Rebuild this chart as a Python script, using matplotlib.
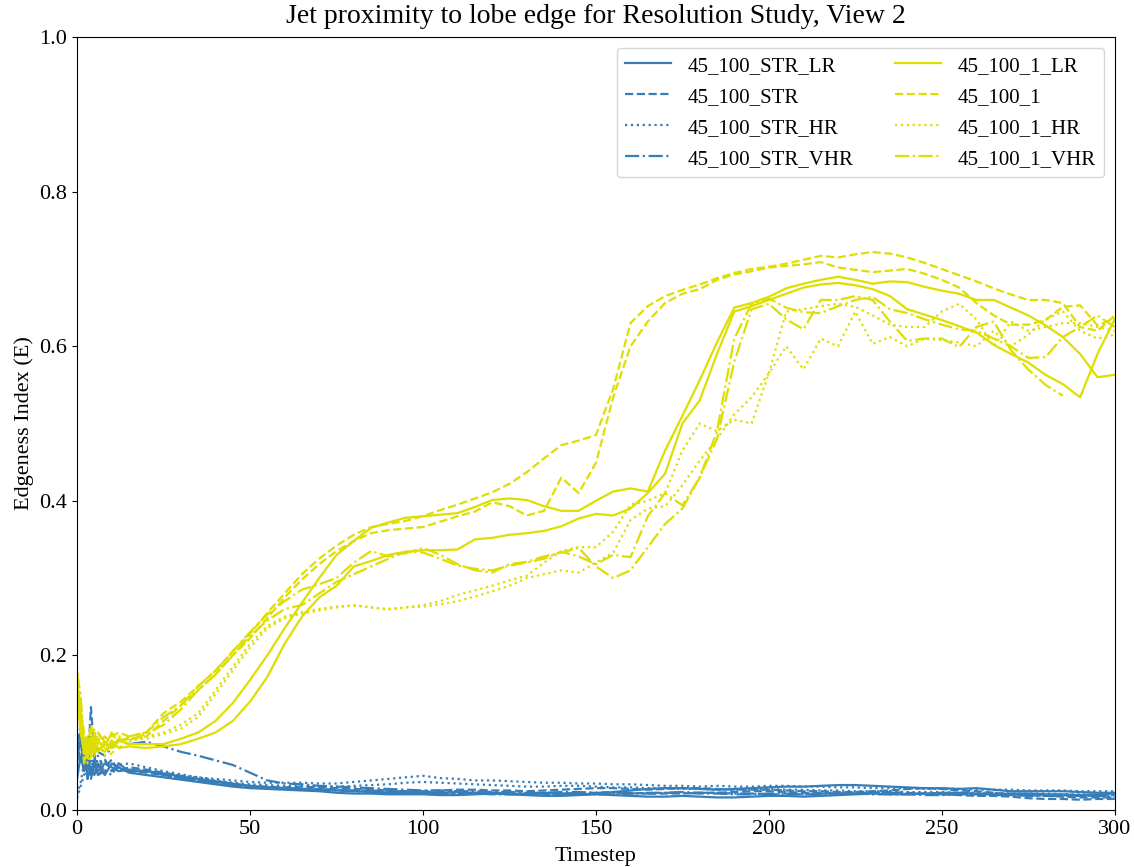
import numpy as np
import matplotlib
matplotlib.use("Agg")
import matplotlib.pyplot as plt

plt.rcParams['font.family'] = ['Liberation Serif', 'DejaVu Serif']

# timestep grid (denser at the start where the index jumps around)
timestep = [0, 1, 2, 3, 4, 5, 6, 8, 10, 12, 15] + list(range(20, 301, 5))

# 45_100_STR runs (two views of each resolution)
str_lr_a = [0.07, 0.09, 0.05, 0.06, 0.045, 0.065, 0.05, 0.06, 0.055, 0.05, 0.052,
            0.05, 0.047, 0.043, 0.04, 0.037, 0.034, 0.031, 0.029, 0.028, 0.027, 0.026, 0.025,
            0.024, 0.023, 0.022, 0.022, 0.021, 0.022, 0.023, 0.022, 0.022, 0.021, 0.021, 0.022,
            0.021, 0.02, 0.021, 0.023, 0.025, 0.027, 0.028, 0.028, 0.027, 0.026, 0.027, 0.028,
            0.029, 0.03, 0.03, 0.031, 0.032, 0.032, 0.031, 0.03, 0.029, 0.028, 0.028, 0.027,
            0.028, 0.026, 0.024, 0.024, 0.024, 0.024, 0.023, 0.022, 0.022]
str_lr_b = [0.05, 0.065, 0.085, 0.04, 0.055, 0.045, 0.06, 0.045, 0.06, 0.055, 0.048,
            0.045, 0.042, 0.039, 0.036, 0.033, 0.03, 0.028, 0.027, 0.026, 0.025, 0.024, 0.022,
            0.021, 0.021, 0.02, 0.02, 0.02, 0.019, 0.019, 0.02, 0.021, 0.02, 0.019, 0.018,
            0.018, 0.019, 0.02, 0.019, 0.018, 0.017, 0.017, 0.018, 0.017, 0.016, 0.016, 0.017,
            0.018, 0.018, 0.017, 0.018, 0.019, 0.02, 0.021, 0.02, 0.02, 0.021, 0.022, 0.022,
            0.021, 0.02, 0.021, 0.021, 0.02, 0.02, 0.019, 0.02, 0.021]
str_a = [0.06, 0.1, 0.055, 0.07, 0.05, 0.06, 0.055, 0.065, 0.05, 0.06, 0.05,
         0.048, 0.045, 0.041, 0.038, 0.035, 0.033, 0.03, 0.029, 0.028, 0.027, 0.027, 0.026,
         0.025, 0.025, 0.024, 0.024, 0.024, 0.025, 0.026, 0.026, 0.025, 0.025, 0.024, 0.025,
         0.026, 0.027, 0.028, 0.028, 0.027, 0.026, 0.027, 0.028, 0.028, 0.027, 0.026, 0.026,
         0.026, 0.025, 0.024, 0.024, 0.023, 0.023, 0.024, 0.025, 0.027, 0.028, 0.027, 0.025,
         0.024, 0.022, 0.02, 0.019, 0.018, 0.017, 0.016, 0.016, 0.016]
str_b = [0.09, 0.06, 0.075, 0.05, 0.133, 0.07, 0.045, 0.055, 0.065, 0.05, 0.055,
         0.052, 0.048, 0.044, 0.04, 0.036, 0.033, 0.031, 0.03, 0.029, 0.03, 0.029, 0.028,
         0.027, 0.026, 0.025, 0.024, 0.023, 0.023, 0.022, 0.022, 0.021, 0.021, 0.02, 0.02,
         0.021, 0.022, 0.022, 0.023, 0.022, 0.021, 0.021, 0.021, 0.022, 0.022, 0.023, 0.024,
         0.024, 0.023, 0.022, 0.022, 0.021, 0.021, 0.022, 0.023, 0.022, 0.021, 0.02, 0.019,
         0.018, 0.018, 0.017, 0.015, 0.014, 0.014, 0.013, 0.014, 0.014]
str_hr_a = [0.02, 0.035, 0.06, 0.04, 0.065, 0.05, 0.07, 0.05, 0.06, 0.055, 0.05,
            0.05, 0.047, 0.044, 0.042, 0.04, 0.038, 0.036, 0.035, 0.035, 0.035, 0.034, 0.034,
            0.036, 0.038, 0.04, 0.042, 0.044, 0.041, 0.04, 0.038, 0.038, 0.037, 0.036, 0.035,
            0.035, 0.034, 0.034, 0.033, 0.033, 0.032, 0.031, 0.031, 0.03, 0.031, 0.03, 0.03,
            0.031, 0.031, 0.03, 0.03, 0.029, 0.029, 0.028, 0.028, 0.028, 0.027, 0.027, 0.027,
            0.026, 0.026, 0.026, 0.025, 0.025, 0.025, 0.024, 0.024, 0.024]
str_hr_b = [0.015, 0.03, 0.045, 0.08, 0.055, 0.07, 0.06, 0.065, 0.05, 0.058, 0.06,
            0.055, 0.05, 0.046, 0.042, 0.038, 0.035, 0.033, 0.032, 0.031, 0.031, 0.03, 0.03,
            0.031, 0.032, 0.033, 0.035, 0.036, 0.035, 0.034, 0.033, 0.032, 0.031, 0.03, 0.03,
            0.031, 0.031, 0.03, 0.029, 0.029, 0.028, 0.028, 0.027, 0.027, 0.026, 0.026, 0.027,
            0.027, 0.026, 0.026, 0.025, 0.025, 0.024, 0.024, 0.024, 0.023, 0.023, 0.023, 0.022,
            0.022, 0.022, 0.021, 0.021, 0.021, 0.02, 0.02, 0.02, 0.02]
str_vhr_a = [0.08, 0.11, 0.07, 0.09, 0.075, 0.085, 0.075, 0.07, 0.08, 0.09, 0.085,
             0.088, 0.082, 0.075, 0.07, 0.064, 0.058, 0.048, 0.038, 0.034, 0.033, 0.031, 0.03,
             0.029, 0.028, 0.027, 0.026, 0.025, 0.025, 0.024, 0.024, 0.023, 0.023, 0.022, 0.022,
             0.023, 0.023, 0.022, 0.022, 0.021, 0.021, 0.022, 0.022, 0.021, 0.021, 0.02, 0.02,
             0.021, 0.021, 0.02, 0.02, 0.021, 0.021, 0.02, 0.02, 0.02, 0.019, 0.019, 0.02,
             0.02, 0.019, 0.019, 0.018, 0.018, 0.018, 0.018, 0.018, 0.017]
str_vhr_b = [0.04, 0.07, 0.05, 0.065, 0.04, 0.06, 0.045, 0.05, 0.045, 0.06, 0.05,
             0.05, 0.045, 0.041, 0.038, 0.035, 0.032, 0.03, 0.029, 0.028, 0.027, 0.026, 0.025,
             0.024, 0.024, 0.023, 0.022, 0.022, 0.021, 0.021, 0.021, 0.02, 0.02, 0.02, 0.021,
             0.021, 0.02, 0.02, 0.02, 0.021, 0.022, 0.022, 0.023, 0.022, 0.022, 0.021, 0.021,
             0.02, 0.02, 0.02, 0.021, 0.021, 0.021, 0.022, 0.022, 0.021, 0.021, 0.02, 0.02,
             0.02, 0.02, 0.019, 0.019, 0.019, 0.019, 0.018, 0.018, 0.019]

# 45_100_1 runs
one_lr_a = [0.16, 0.12, 0.09, 0.07, 0.095, 0.08, 0.075, 0.085, 0.08, 0.09, 0.085,
            0.085, 0.085, 0.092, 0.10, 0.115, 0.138, 0.168, 0.200, 0.235, 0.268, 0.300, 0.330,
            0.348, 0.365, 0.372, 0.378, 0.380, 0.382, 0.384, 0.392, 0.401, 0.403, 0.401, 0.393,
            0.387, 0.387, 0.400, 0.412, 0.416, 0.412, 0.465, 0.510, 0.556, 0.605, 0.650, 0.656,
            0.664, 0.675, 0.681, 0.686, 0.690, 0.686, 0.681, 0.684, 0.683, 0.677, 0.672, 0.668,
            0.660, 0.660, 0.650, 0.640, 0.627, 0.612, 0.590, 0.560, 0.563]
one_lr_b = [0.15, 0.10, 0.075, 0.085, 0.07, 0.09, 0.08, 0.075, 0.09, 0.08, 0.082,
            0.080, 0.082, 0.085, 0.092, 0.100, 0.115, 0.140, 0.172, 0.215, 0.250, 0.275, 0.290,
            0.315, 0.322, 0.330, 0.334, 0.336, 0.336, 0.337, 0.350, 0.352, 0.356, 0.358, 0.361,
            0.367, 0.377, 0.383, 0.381, 0.390, 0.410, 0.435, 0.500, 0.530, 0.590, 0.645, 0.652,
            0.660, 0.668, 0.676, 0.680, 0.682, 0.679, 0.674, 0.665, 0.648, 0.641, 0.634, 0.626,
            0.618, 0.602, 0.590, 0.579, 0.563, 0.551, 0.534, 0.590, 0.635]
one_a = [0.17, 0.13, 0.10, 0.08, 0.11, 0.09, 0.10, 0.085, 0.095, 0.10, 0.095,
         0.100, 0.125, 0.140, 0.160, 0.180, 0.205, 0.228, 0.255, 0.280, 0.305, 0.325, 0.342,
         0.356, 0.366, 0.370, 0.374, 0.380, 0.388, 0.395, 0.403, 0.411, 0.422, 0.437, 0.455,
         0.472, 0.478, 0.485, 0.545, 0.630, 0.652, 0.665, 0.673, 0.680, 0.688, 0.695, 0.700,
         0.703, 0.707, 0.712, 0.717, 0.715, 0.719, 0.722, 0.720, 0.715, 0.708, 0.700, 0.692,
         0.684, 0.675, 0.667, 0.660, 0.660, 0.656, 0.625, 0.620, 0.640]
one_b = [0.155, 0.11, 0.085, 0.095, 0.075, 0.10, 0.085, 0.095, 0.085, 0.09, 0.092,
         0.095, 0.115, 0.135, 0.155, 0.175, 0.200, 0.222, 0.248, 0.275, 0.298, 0.318, 0.335,
         0.348, 0.358, 0.362, 0.364, 0.366, 0.373, 0.380, 0.386, 0.398, 0.393, 0.381, 0.387,
         0.430, 0.410, 0.449, 0.534, 0.600, 0.632, 0.656, 0.668, 0.674, 0.686, 0.693, 0.697,
         0.702, 0.704, 0.706, 0.709, 0.702, 0.699, 0.696, 0.698, 0.700, 0.694, 0.686, 0.676,
         0.656, 0.640, 0.628, 0.628, 0.634, 0.651, 0.653, 0.627, 0.636]
one_hr_a = [0.184, 0.14, 0.09, 0.06, 0.08, 0.105, 0.075, 0.09, 0.07, 0.095, 0.088,
            0.095, 0.100, 0.110, 0.125, 0.155, 0.185, 0.215, 0.238, 0.250, 0.256, 0.260, 0.263,
            0.264, 0.262, 0.259, 0.262, 0.265, 0.270, 0.278, 0.284, 0.290, 0.297, 0.303, 0.320,
            0.335, 0.340, 0.340, 0.360, 0.395, 0.400, 0.410, 0.465, 0.500, 0.490, 0.505, 0.500,
            0.565, 0.645, 0.648, 0.652, 0.655, 0.651, 0.640, 0.628, 0.625, 0.625, 0.645, 0.655,
            0.635, 0.600, 0.632, 0.620, 0.625, 0.630, 0.630, 0.625, 0.620]
one_hr_b = [0.165, 0.12, 0.07, 0.09, 0.065, 0.085, 0.095, 0.07, 0.085, 0.08, 0.09,
            0.092, 0.098, 0.105, 0.120, 0.150, 0.180, 0.210, 0.235, 0.248, 0.254, 0.258, 0.262,
            0.265, 0.262, 0.260, 0.262, 0.263, 0.266, 0.270, 0.276, 0.283, 0.290, 0.300, 0.305,
            0.310, 0.307, 0.320, 0.333, 0.375, 0.390, 0.393, 0.420, 0.452, 0.480, 0.512, 0.534,
            0.565, 0.600, 0.570, 0.610, 0.600, 0.645, 0.603, 0.612, 0.600, 0.610, 0.608, 0.605,
            0.600, 0.620, 0.600, 0.615, 0.635, 0.645, 0.620, 0.610, 0.615]
one_vhr_a = [0.175, 0.15, 0.08, 0.065, 0.10, 0.075, 0.09, 0.08, 0.10, 0.085, 0.095,
             0.100, 0.120, 0.135, 0.160, 0.180, 0.205, 0.230, 0.253, 0.270, 0.285, 0.292, 0.300,
             0.320, 0.335, 0.328, 0.332, 0.339, 0.330, 0.318, 0.310, 0.307, 0.318, 0.321, 0.328,
             0.333, 0.339, 0.315, 0.300, 0.310, 0.340, 0.370, 0.390, 0.430, 0.480, 0.580, 0.648,
             0.655, 0.635, 0.622, 0.660, 0.660, 0.665, 0.660, 0.632, 0.607, 0.610, 0.610, 0.599,
             0.625, 0.632, 0.595, 0.570, 0.550, 0.536, np.nan, np.nan, np.nan]
one_vhr_b = [0.16, 0.135, 0.06, 0.08, 0.09, 0.07, 0.10, 0.088, 0.078, 0.092, 0.09,
             0.098, 0.110, 0.130, 0.155, 0.175, 0.200, 0.225, 0.245, 0.260, 0.265, 0.280, 0.295,
             0.305, 0.315, 0.325, 0.334, 0.333, 0.325, 0.316, 0.312, 0.310, 0.316, 0.320, 0.325,
             0.334, 0.328, 0.318, 0.330, 0.327, 0.380, 0.410, 0.394, 0.430, 0.490, 0.610, 0.655,
             0.662, 0.650, 0.644, 0.643, 0.652, 0.660, 0.664, 0.648, 0.643, 0.635, 0.628, 0.622,
             0.620, 0.610, 0.600, 0.585, 0.586, 0.612, 0.625, 0.640, 0.625]

blue = '#377eb8'
yellow = '#dede00'

fig, ax = plt.subplots(figsize=(11.34, 8.67), dpi=100)
fig.subplots_adjust(left=0.068, right=0.983, top=0.957, bottom=0.066)

runs = [
    ('45_100_STR_LR', str_lr_a, str_lr_b, blue, '-'),
    ('45_100_STR', str_a, str_b, blue, '--'),
    ('45_100_STR_HR', str_hr_a, str_hr_b, blue, ':'),
    ('45_100_STR_VHR', str_vhr_a, str_vhr_b, blue, '-.'),
    ('45_100_1_LR', one_lr_a, one_lr_b, yellow, '-'),
    ('45_100_1', one_a, one_b, yellow, '--'),
    ('45_100_1_HR', one_hr_a, one_hr_b, yellow, ':'),
    ('45_100_1_VHR', one_vhr_a, one_vhr_b, yellow, '-.'),
]

for name, vals_a, vals_b, col, ls in runs:
    ax.plot(timestep, vals_a, color=col, ls=ls, lw=1.6, label=name)
    ax.plot(timestep, vals_b, color=col, ls=ls, lw=1.6)

ax.set_xlim(0, 300)
ax.set_ylim(0, 1.0)
ax.tick_params(labelsize=16)
ax.set_xlabel('Timestep', fontsize=16, labelpad=6)
ax.set_ylabel('Edgeness Index (E)', fontsize=16, labelpad=4)
ax.set_title('Jet proximity to lobe edge for Resolution Study, View 2', fontsize=20, pad=10)
ax.legend(loc='upper right', ncol=2, fontsize=15, handlelength=2.2, labelspacing=0.55,
          columnspacing=2.0)

fig.savefig('out.png', dpi=100)
